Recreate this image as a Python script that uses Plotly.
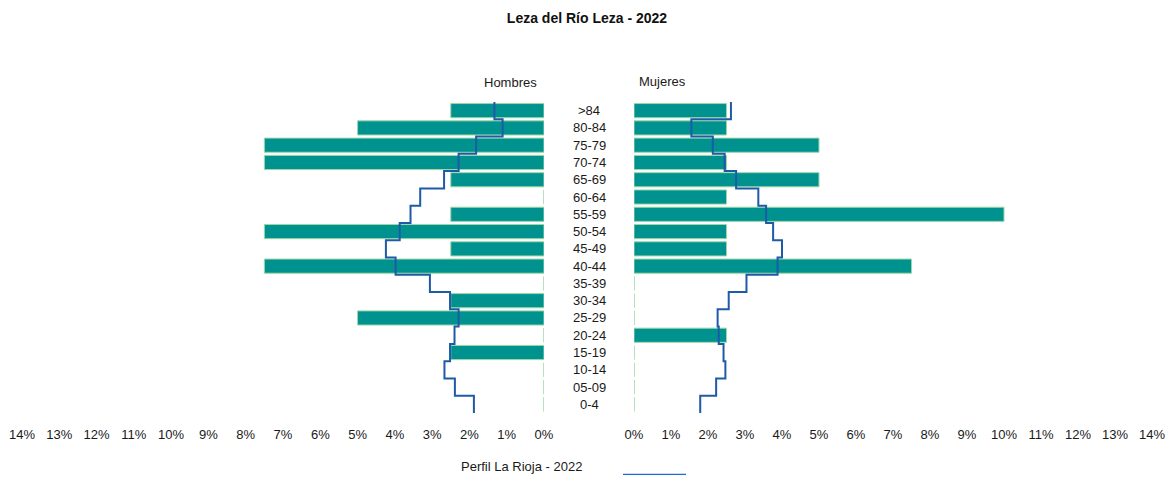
import plotly.graph_objects as go

title = "Leza del Río Leza - 2022"
groups = ["0-4", "05-09", "10-14", "15-19", "20-24", "25-29", "30-34", "35-39", "40-44",
          "45-49", "50-54", "55-59", "60-64", "65-69", "70-74", "75-79", "80-84", ">84"]
hombres = [0, 0, 0, 2.5, 0, 5.0, 2.5, 0, 7.5, 2.5, 7.5, 2.5, 0, 2.5, 7.5, 7.5, 5.0, 2.5]
mujeres = [0, 0, 0, 0, 2.5, 0, 0, 0, 7.5, 2.5, 2.5, 10.0, 2.5, 5.0, 2.5, 5.0, 2.5, 2.5]
rioja_h = [1.88, 2.39, 2.67, 2.52, 2.40, 2.29, 2.52, 3.06, 3.98, 4.24, 3.87, 3.58, 3.32, 2.68, 2.29, 1.82, 1.11, 1.33]
rioja_m = [1.79, 2.22, 2.47, 2.42, 2.29, 2.26, 2.56, 3.04, 3.88, 4.00, 3.76, 3.57, 3.36, 2.76, 2.45, 2.13, 1.55, 2.62]
ticks = list(range(0, 15))
tick_labels = [f"{t}%" for t in ticks]
legend_label = "Perfil La Rioja - 2022"

BAR = "#00928e"
EDGE = "#9dd6a8"
LINE = "#1f5aa8"

OFF = 8  # page body margin
W, H = 1174 - 2 * OFF, 483 - 2 * OFF
L, R = 10, 10
PW = W - L - R
T = 102.4 - OFF
B = H - (412.6 - OFF)
PH = H - T - B


def pxx(p):
    return (p - OFF - L) / PW


def pyy(p):
    return (H - B - (p - OFF)) / PH


def step(vals):
    xs, ys = [], []
    for i, v in enumerate(vals):
        xs += [v, v]
        ys += [i - 0.5, i + 0.5]
    return xs, ys


idx = list(range(len(groups)))
fig = go.Figure()
fig.add_trace(go.Bar(y=idx, x=hombres, orientation="h", xaxis="x", yaxis="y", width=0.82,
                     marker=dict(color=BAR, line=dict(color=EDGE, width=1)), showlegend=False,
                     hoverinfo="skip"))
fig.add_trace(go.Bar(y=idx, x=mujeres, orientation="h", xaxis="x2", yaxis="y", width=0.82,
                     marker=dict(color=BAR, line=dict(color=EDGE, width=1)), showlegend=False,
                     hoverinfo="skip"))
hx, hy = step(rioja_h)
mx, my = step(rioja_m)
fig.add_trace(go.Scatter(x=hx, y=hy, mode="lines", xaxis="x", yaxis="y",
                         line=dict(color=LINE, width=2), showlegend=False))
fig.add_trace(go.Scatter(x=mx, y=my, mode="lines", xaxis="x2", yaxis="y",
                         line=dict(color=LINE, width=2), showlegend=False))

axfont = dict(family="Liberation Sans, Arial", size=13, color="#1a1a1a")
fig.update_layout(
    width=W, height=H,
    margin=dict(l=L, r=R, t=T, b=B, autoexpand=False),
    paper_bgcolor="white", plot_bgcolor="white",
    font=axfont,
    title=dict(text=f"<b>{title}</b>", x=pxx(587), xanchor="center", y=1 - (18 - OFF) / H,
               yanchor="middle",
               font=dict(family="Liberation Sans, Arial", size=14, color="#111")),
    xaxis=dict(domain=[pxx(22), pxx(544)], range=[14, 0], tickvals=ticks, ticktext=tick_labels,
               showgrid=False, zeroline=False, showline=False, ticks="outside", ticklen=9,
               tickcolor="rgba(0,0,0,0)", anchor="y", tickfont=axfont, fixedrange=True,
               automargin=False, ticklabeloverflow="allow"),
    xaxis2=dict(domain=[pxx(634), pxx(1152)], range=[0, 14], tickvals=ticks, ticktext=tick_labels,
                showgrid=False, zeroline=False, showline=False, ticks="outside", ticklen=9,
                tickcolor="rgba(0,0,0,0)", anchor="y", tickfont=axfont, fixedrange=True,
                automargin=False, ticklabeloverflow="allow"),
    yaxis=dict(range=[-0.5, len(groups) - 0.5], showticklabels=False, showgrid=False,
               zeroline=False, showline=False, fixedrange=True, automargin=False),
    bargap=0.15,
)

for i, g in enumerate(groups):
    fig.add_annotation(x=pxx(589), xref="paper", y=i, yref="y", text=g, showarrow=False,
                       xanchor="center", font=axfont)

fig.add_annotation(x=pxx(510), xref="paper", y=pyy(73), yref="paper", text="Hombres",
                   showarrow=False, xanchor="center", font=axfont)
fig.add_annotation(x=pxx(662), xref="paper", y=pyy(72), yref="paper", text="Mujeres",
                   showarrow=False, xanchor="center", font=axfont)
fig.add_annotation(x=pxx(584), xref="paper", y=pyy(475), yref="paper", text=legend_label,
                   showarrow=False, xanchor="right", font=axfont)
fig.add_shape(type="line", xref="paper", yref="paper", x0=pxx(623), x1=pxx(686),
              y0=pyy(474.5), y1=pyy(474.5), line=dict(color="#1a6fd6", width=2.5))

fig.write_html("out.html")
